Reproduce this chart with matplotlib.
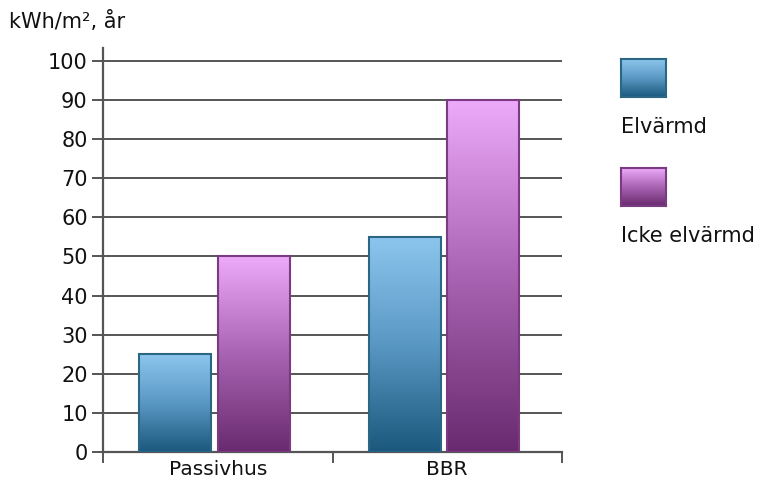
import matplotlib.pyplot as plt
import numpy as np
from matplotlib.colors import LinearSegmentedColormap

plt.rcParams['font.family'] = ['DejaVu Sans']

categories = ['Passivhus', 'BBR']
series = ['Elvärmd', 'Icke elvärmd']
elvarmd = [25, 55]
icke_elvarmd = [50, 90]
yticks = [0, 10, 20, 30, 40, 50, 60, 70, 80, 90, 100]

# bottom (dark) -> top (light) for each series
blue = LinearSegmentedColormap.from_list('blue', ['#1b587c', '#5a98c4', '#8cc6ee'])
purple = LinearSegmentedColormap.from_list('purple', ['#692a6e', '#a863b2', '#eeaafa'])
edges = ['#2b6785', '#7b3b82']
cmaps = [blue, purple]

grad = np.linspace(0, 1, 256).reshape(-1, 1)

fig = plt.figure(figsize=(7.62, 4.82), dpi=100)
ax = fig.add_axes([103/762, 30/482, 459/762, 404/482])

x = np.arange(len(categories))
width = 0.314
offsets = [-0.185, 0.157]

for vals, off, cm, ec in zip([elvarmd, icke_elvarmd], offsets, cmaps, edges):
    for xi, v in zip(x, vals):
        x0 = xi + off - width/2
        ax.imshow(grad, extent=[x0, x0 + width, 0, v], origin='lower',
                  aspect='auto', cmap=cm, zorder=3, interpolation='bilinear')
        ax.bar(xi + off, v, width, facecolor='none', edgecolor=ec, linewidth=1.5, zorder=4)

ax.set_xlim(-0.5, 1.5)
ax.set_ylim(0, 103.3)
ax.set_yticks(yticks)
ax.yaxis.grid(True, color='#555555', linewidth=1.4, zorder=1)
ax.set_axisbelow(True)
ax.set_xticks([-0.5, 0.5, 1.5])
ax.set_xticklabels([])
ax.tick_params(axis='x', length=8, width=1.4, color='#555555', direction='out')
ax.tick_params(axis='y', length=8, width=1.4, color='#555555', labelsize=15, pad=3,
               labelcolor='#111111')
for t, c in zip(x, categories):
    ax.text(t, -4.6, c, ha='center', va='center', fontsize=14.5, color='#111111')

for s in ['top', 'right']:
    ax.spines[s].set_visible(False)
ax.spines['left'].set_color('#555555')
ax.spines['left'].set_linewidth(1.6)
ax.spines['bottom'].set_color('#555555')
ax.spines['bottom'].set_linewidth(1.6)

fig.text(9/762, 1 - 22/482, 'kWh/m², år', fontsize=15, va='center', ha='left', color='#111111')

# legend swatches
for i, (name, cm, ec) in enumerate(zip(series, cmaps, edges)):
    top = 59 + i * 109
    sw = fig.add_axes([621/762, 1 - (top + 38)/482, 45/762, 38/482])
    sw.imshow(grad, origin='lower', aspect='auto', cmap=cm, extent=[0, 1, 0, 1])
    sw.set_xticks([])
    sw.set_yticks([])
    for s in sw.spines.values():
        s.set_color(ec)
        s.set_linewidth(1.5)
    fig.text(621/762, 1 - (top + 68)/482, name, fontsize=15, va='center', ha='left', color='#111111')

fig.savefig('out.png', dpi=100)
